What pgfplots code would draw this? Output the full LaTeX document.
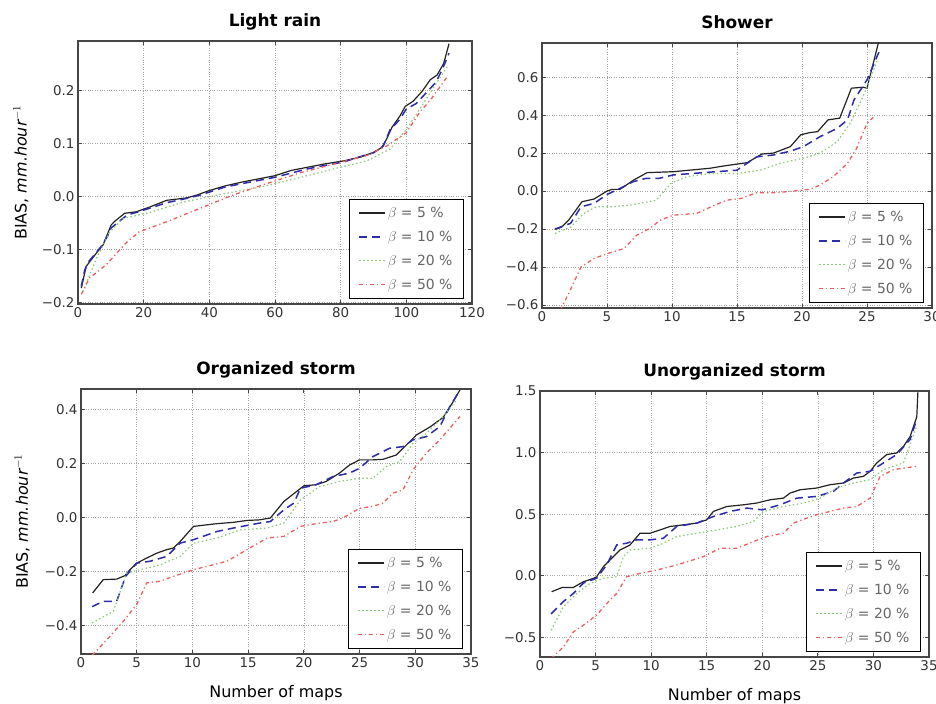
\documentclass[border=0pt]{standalone}
\usepackage{fontspec}
\setmainfont{DejaVu Sans}
\usepackage{pgfplots}
\pgfplotsset{compat=1.18}

\definecolor{cK}{RGB}{35,35,35}
\definecolor{cB}{RGB}{45,45,170}
\definecolor{cG}{RGB}{140,200,120}
\definecolor{cR}{RGB}{235,95,95}
\definecolor{frame}{RGB}{70,70,70}
\definecolor{gridc}{RGB}{165,165,165}

\pgfplotsset{
  panel/.style={
    scale only axis, anchor=south west,
    axis line style={frame, line width=1.1bp},
    grid=major, major grid style={gridc, dotted, line width=0.7bp},
    tick style={frame, line width=0.8bp}, major tick length=4bp,
    /pgf/number format/assume math mode=true,
    tick label style={font=\fontsize{13.5}{13.5}\selectfont, text=black!80},
    title style={font=\fontsize{17}{17}\selectfont\bfseries, at={(0.5,1)}, anchor=base, yshift=8.5bp},
    legend style={at={(1,0)}, anchor=south east, xshift=-8bp, yshift=5bp,
      draw=black, line width=1bp, font=\fontsize{14}{16}\selectfont\color{black!60},
      inner xsep=9bp, inner ysep=6bp, row sep=8bp},
    legend cell align=left,
    legend image code/.code={\draw[##1] (0bp,0bp) -- (26bp,0bp);},
  },
  sK/.style={cK, line width=1.2bp},
  sB/.style={cB, line width=1.5bp, dash pattern=on 8bp off 5bp},
  sG/.style={cG, line width=1.2bp, dash pattern=on 1.5bp off 2.5bp},
  sR/.style={cR, line width=1.3bp, dash pattern=on 4bp off 3bp on 1.2bp off 3bp},
  ylab/.style={ylabel={\fontsize{16}{16}\selectfont BIAS, \textit{mm.hour}$^{-1}$}},
  xlab/.style={xlabel={\fontsize{16}{16}\selectfont Number of maps},
    xlabel style={at={(axis description cs:0.5,0)}, anchor=base, yshift=-43bp}},
}

\begin{document}
\begin{tikzpicture}
\useasboundingbox (0,0) rectangle (936bp,704bp);

% Light rain
\begin{axis}[panel, at={(78bp,400bp)}, width=394bp, height=263bp,
  title={Light rain}, ylab,
  ylabel style={at={(axis description cs:-0.145,0.5)}, anchor=center},
  xmin=0, xmax=120, xtick={0,20,...,120},
  ymin=-0.203, ymax=0.293,
  ytick={-0.2,-0.1,0,0.1,0.2}, yticklabels={−0.2,−0.1,0.0,0.1,0.2}]
\addplot[sK] coordinates {(1,-0.173) (2.5,-0.132) (5.6,-0.107) (7.6,-0.092) (10.1,-0.054) (11.2,-0.047) (14.2,-0.032) (17.8,-0.029) (21.9,-0.02) (27,-0.0075) (33,-0.003) (36,0.002) (40,0.011) (45,0.02) (50,0.027) (55,0.033) (60,0.039) (65,0.049) (70,0.055) (75,0.061) (81,0.067) (86,0.074) (90,0.083) (92.5,0.092) (94,0.108) (95.6,0.13) (98,0.151) (99.7,0.17) (102,0.179) (104.8,0.198) (107.3,0.22) (109.4,0.229) (111.4,0.251) (113,0.288)};
\addplot[sB] coordinates {(1,-0.17) (2,-0.14) (3,-0.125) (5,-0.11) (7,-0.095) (9,-0.075) (10,-0.06) (12,-0.05) (14,-0.04) (15,-0.035) (18,-0.03) (22,-0.022) (27,-0.012) (33,-0.004) (37,0.002) (41,0.01) (45,0.018) (50,0.024) (55,0.03) (60,0.036) (65,0.044) (70,0.052) (75,0.058) (81,0.065) (86,0.075) (90,0.082) (93,0.095) (95,0.125) (98,0.145) (100,0.165) (103,0.175) (106,0.195) (109,0.215) (111,0.24) (113,0.27)};
\addplot[sG] coordinates {(1.5,-0.18) (5.6,-0.117) (9.7,-0.067) (13.7,-0.042) (22,-0.03) (32,-0.011) (42,0.002) (57.5,0.02) (68,0.036) (78,0.052) (88,0.067) (95,0.089) (100,0.126) (106,0.183) (112.5,0.245)};
\addplot[sR] coordinates {(1,-0.185) (3.5,-0.154) (8.6,-0.129) (14.6,-0.088) (18.6,-0.067) (27,-0.048) (37,-0.023) (47,0.002) (57.5,0.024) (68,0.045) (78,0.061) (88,0.077) (94,0.095) (100,0.12) (104,0.158) (107.5,0.183) (112.5,0.226)};
\legend{{$\beta$ = 5 \%},{$\beta$ = 10 \%},{$\beta$ = 20 \%},{$\beta$ = 50 \%}}
\end{axis}

% Shower
\begin{axis}[panel, at={(542bp,396bp)}, width=390bp, height=265bp,
  title={Shower},
  xmin=0, xmax=30, xtick={0,5,...,30},
  ymin=-0.616, ymax=0.78,
  ytick={-0.6,-0.4,-0.2,0,0.2,0.4,0.6}, yticklabels={−0.6,−0.4,−0.2,0.0,0.2,0.4,0.6}]
\addplot[sK] coordinates {(1.03,-0.202) (1.5,-0.19) (2.05,-0.153) (3.08,-0.056) (4,-0.042) (5,0.0) (5.4,0.009) (6,0.009) (7.05,0.058) (8.08,0.097) (10.1,0.102) (12.9,0.12) (13.97,0.132) (15.8,0.15) (16.9,0.195) (17.8,0.2) (19.1,0.234) (19.9,0.296) (20.6,0.308) (21.2,0.313) (22,0.375) (22.9,0.384) (23.8,0.542) (24.7,0.547) (25,0.542) (26,0.815)};
\addplot[sB] coordinates {(1,-0.2) (2.2,-0.17) (3,-0.083) (4,-0.065) (5,-0.018) (6,0.014) (7,0.049) (8,0.067) (9,0.067) (10.1,0.085) (13,0.1) (15,0.11) (16.5,0.18) (17.8,0.19) (19.1,0.21) (20.1,0.234) (21.4,0.287) (22.7,0.33) (23.5,0.375) (24,0.48) (25,0.586) (26,0.745)};
\addplot[sG] coordinates {(1,-0.223) (2.2,-0.19) (3.2,-0.118) (4.2,-0.083) (5.3,-0.083) (6.8,-0.074) (8.8,-0.048) (9.9,0.04) (11.15,0.076) (13,0.093) (15,0.093) (16.8,0.11) (18.3,0.146) (20.1,0.173) (21.4,0.2) (22.7,0.26) (23.7,0.357) (24.7,0.498) (25.8,0.69)};
\addplot[sR] coordinates {(1,-0.68) (2.05,-0.54) (3,-0.4) (4,-0.355) (5,-0.33) (6.3,-0.303) (7.3,-0.232) (8.3,-0.197) (9.1,-0.153) (10.1,-0.127) (11.9,-0.118) (13,-0.083) (14.2,-0.048) (15.3,-0.039) (16.5,-0.009) (18,-0.009) (19.6,0.002) (20.6,0.009) (21.4,0.032) (22.4,0.076) (23.5,0.146) (24.2,0.225) (25,0.357) (25.5,0.39)};
\legend{{$\beta$ = 5 \%},{$\beta$ = 10 \%},{$\beta$ = 20 \%},{$\beta$ = 50 \%}}
\end{axis}

% Organized storm
\begin{axis}[panel, at={(81bp,50bp)}, width=390bp, height=265bp,
  title={Organized storm}, ylab, xlab,
  ylabel style={at={(axis description cs:-0.151,0.5)}, anchor=center},
  xmin=0, xmax=35, xtick={0,5,...,35},
  ymin=-0.505, ymax=0.475,
  ytick={-0.4,-0.2,0,0.2,0.4}, yticklabels={−0.4,−0.2,0.0,0.2,0.4}]
\addplot[sK] coordinates {(1.05,-0.279) (2,-0.23) (3.2,-0.228) (3.95,-0.215) (4.4,-0.193) (5,-0.169) (5.9,-0.15) (6.8,-0.132) (7.7,-0.119) (8.3,-0.113) (8.9,-0.089) (10.1,-0.033) (12.2,-0.023) (13.7,-0.018) (14.9,-0.011) (16,-0.009) (17,-0.002) (18.2,0.059) (20,0.117) (21.1,0.121) (22,0.133) (23.2,0.164) (24.1,0.194) (25,0.213) (26.2,0.213) (27.1,0.215) (28.3,0.231) (29.2,0.268) (30.1,0.305) (31.3,0.334) (32.5,0.37) (33.4,0.428) (34,0.471)};
\addplot[sB] coordinates {(1,-0.33) (2,-0.31) (3.2,-0.31) (4,-0.218) (5,-0.169) (6.2,-0.162) (7.7,-0.144) (8.9,-0.095) (10.1,-0.082) (12.2,-0.052) (13.7,-0.039) (16,-0.021) (17,-0.015) (18.2,0.028) (19.1,0.053) (19.7,0.108) (21.1,0.121) (22.6,0.151) (24.1,0.164) (25,0.182) (26.2,0.225) (27.7,0.256) (28.9,0.262) (29.8,0.287) (31,0.299) (32.2,0.336) (33.1,0.41) (34,0.471)};
\addplot[sG] coordinates {(1,-0.39) (2.9,-0.347) (4.1,-0.206) (5.3,-0.193) (7.1,-0.175) (8.9,-0.144) (10.1,-0.095) (12.2,-0.076) (14.3,-0.046) (16.7,-0.039) (18.2,-0.021) (19.7,0.065) (21.4,0.114) (23.2,0.133) (25,0.145) (26.2,0.145) (27.4,0.188) (28.6,0.207) (29.8,0.274) (31,0.311) (32.5,0.373) (33.7,0.434)};
\addplot[sR] coordinates {(1,-0.51) (2.6,-0.44) (3.8,-0.384) (5,-0.322) (5.9,-0.242) (7.1,-0.236) (8.3,-0.218) (10.1,-0.193) (11.3,-0.181) (13.1,-0.162) (14.9,-0.119) (16.7,-0.076) (18.2,-0.07) (19.7,-0.033) (21.4,-0.021) (22.6,-0.015) (23.5,-0.002) (25,0.034) (26.2,0.041) (27.1,0.053) (28,0.09) (28.9,0.102) (29.8,0.176) (31,0.238) (32.2,0.287) (34,0.373)};
\legend{{$\beta$ = 5 \%},{$\beta$ = 10 \%},{$\beta$ = 20 \%},{$\beta$ = 50 \%}}
\end{axis}

% Unorganized storm
\begin{axis}[panel, at={(540bp,47bp)}, width=389bp, height=266bp,
  title={Unorganized storm}, xlab,
  xmin=0, xmax=35, xtick={0,5,...,35},
  ymin=-0.66, ymax=1.5,
  ytick={-0.5,0,0.5,1,1.5}, yticklabels={−0.5,0.0,0.5,1.0,1.5}]
\addplot[sK] coordinates {(1.05,-0.13) (2,-0.095) (3,-0.095) (3.9,-0.049) (4.8,-0.022) (5.1,-0.008) (5.7,0.073) (6.6,0.155) (7.2,0.209) (8.1,0.25) (9,0.345) (9.9,0.345) (10.8,0.372) (11.7,0.4) (12.9,0.413) (14.1,0.427) (15,0.454) (15.6,0.522) (16.8,0.562) (18.3,0.576) (19.5,0.59) (20.7,0.617) (21.9,0.63) (22.5,0.671) (23.4,0.698) (24.9,0.712) (26.1,0.739) (27.3,0.753) (28.2,0.793) (29.1,0.807) (29.7,0.848) (30.3,0.916) (31.2,0.984) (32.1,0.997) (32.7,1.05) (33.3,1.13) (33.9,1.29) (34,1.49)};
\addplot[sB] coordinates {(1,-0.31) (2.1,-0.21) (3,-0.144) (3.9,-0.06) (5.1,-0.02) (6,0.087) (6.9,0.25) (7.8,0.264) (8.7,0.291) (9.9,0.291) (11.1,0.304) (12.3,0.4) (14.1,0.427) (15.6,0.481) (17.1,0.522) (18.6,0.549) (20,0.535) (21.6,0.576) (23.1,0.63) (24.9,0.644) (26.4,0.685) (27.3,0.753) (28.5,0.834) (29.7,0.848) (30.9,0.916) (32.1,0.984) (33.3,1.106) (33.9,1.27)};
\addplot[sG] coordinates {(1,-0.443) (2.1,-0.253) (3.3,-0.144) (4.5,-0.063) (5.7,-0.022) (6.9,-0.008) (7.5,0.155) (8.1,0.209) (9.9,0.223) (11.1,0.264) (12.3,0.318) (14.1,0.345) (15.9,0.372) (17.7,0.4) (19.2,0.44) (20.1,0.522) (21.9,0.562) (23.7,0.59) (25.2,0.63) (26.7,0.712) (28.2,0.753) (29.7,0.78) (30.9,0.861) (32.7,0.916) (33.9,1.215)};
\addplot[sR] coordinates {(1,-0.674) (2.1,-0.579) (3,-0.457) (3.9,-0.402) (5.1,-0.32) (6,-0.226) (6.9,-0.144) (7.8,-0.008) (9,0.019) (10.5,0.046) (12.3,0.087) (14.7,0.155) (16.2,0.223) (17.7,0.223) (19.2,0.277) (20.4,0.318) (21.9,0.345) (22.8,0.427) (24,0.467) (24.9,0.495) (26.1,0.522) (27.3,0.549) (28.5,0.562) (29.7,0.63) (30.6,0.807) (31.8,0.861) (33.9,0.889)};
\legend{{$\beta$ = 5 \%},{$\beta$ = 10 \%},{$\beta$ = 20 \%},{$\beta$ = 50 \%}}
\end{axis}
\end{tikzpicture}
\end{document}
